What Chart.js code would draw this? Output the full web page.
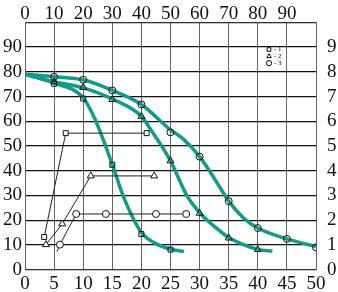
<!DOCTYPE html>
<html lang="en">
    <head>
        <meta charset="UTF-8" />
        <title>Chart</title>
        <script src="https://cdn.jsdelivr.net/npm/chart.js@4.4.1/dist/chart.umd.min.js"></script>
        <style>
            html, body { margin: 0; padding: 0; background: #fff; }
            #wrap { width: 338px; height: 292px; }
        </style>
    </head>
    <body>
        <div id="wrap"><canvas id="myChart"></canvas></div>
    </body>

    <script>
        // teal curves (bottom scale 0..50)
        const c1X = [0, 5, 10, 12, 15, 17, 20, 22.5, 25, 27.3];
        const c1Y = [79, 75.5, 69.5, 61, 42.5, 29, 15, 10.5, 8.3, 7.3];
        const c2X = [0, 5, 10, 15, 20, 21.5, 25, 27.8, 30, 32.9, 35, 40, 42.5];
        const c2Y = [79, 76, 73.5, 69, 62, 57, 44, 30, 23, 16.8, 13, 8.2, 7.5];
        const c3X = [0, 5, 10, 15, 20, 25, 27.2, 30, 32.9, 35, 37.5, 40, 45, 50];
        const c3Y = [79, 78, 76.8, 72.5, 66.8, 56.5, 52.8, 45.7, 35.5, 27.7, 21, 16.8, 12.4, 9.3];

        // markers on the curves
        const sqX = [5, 10, 15, 20, 25];
        const sqY = [75.2, 69.2, 42.4, 14.4, 8.1];
        const triX = [5, 10, 15, 20, 25, 30, 35, 40];
        const triY = [76, 73.7, 68.8, 62, 44, 22.8, 12.8, 8.1];
        const cirX = [5, 10, 15, 20, 25, 30, 35, 40, 45, 50];
        const cirY = [78, 76.8, 72.5, 66.8, 55.5, 45.7, 27.7, 16.8, 12.4, 9];

        // thin black lines
        const sqThinX = [3.3, 7.0, 20.9];
        const sqThinY = [13.2, 55.2, 55.2];
        const triThinX = [3.6, 6.4, 11.3, 22.2];
        const triThinY = [10.1, 18.5, 37.9, 37.9];
        const cirThinX = [5.5, 6.0, 8.8, 13.9, 22.5, 27.7];
        const cirThinY = [7.3, 10.1, 22.5, 22.5, 22.5, 22.5];

        const legendItems = ["- 1", "- 2", "- 3"];
        const legendStyles = ["rect", "triangle", "circle"];

        const teal = "#129a8a";
        const font = { family: "'Liberation Serif', serif", size: 19 };

        const pts = (xs, ys) => xs.map((x, i) => ({ x: x, y: ys[i] }));

        function markerSet(xs, ys, style) {
            return {
                data: pts(xs, ys),
                showLine: false,
                pointStyle: style,
                pointRadius: style === "triangle" ? 4 : 3.5,
                pointBorderColor: "#111",
                pointBackgroundColor: "rgba(255,255,255,0)",
                pointBorderWidth: 1,
            };
        }

        function thinSet(xs, ys, style, noFirst) {
            return {
                data: pts(xs, ys),
                showLine: true,
                borderColor: "#222",
                borderWidth: 1,
                tension: 0,
                pointStyle: style,
                pointRadius: xs.map((x, i) => (noFirst && i === 0 ? 0 : style === "triangle" ? 4 : 3.5)),
                pointBorderColor: "#111",
                pointBackgroundColor: "#fff",
                pointBorderWidth: 1,
            };
        }

        function curveSet(xs, ys) {
            return {
                data: pts(xs, ys),
                showLine: true,
                borderColor: teal,
                borderWidth: 3.5,
                cubicInterpolationMode: "monotone",
                pointRadius: 0,
            };
        }

        const legendPlugin = {
            id: "cornerLegend",
            afterDatasetsDraw(chart) {
                const ctx = chart.ctx;
                ctx.save();
                legendItems.forEach((txt, i) => {
                    const y = 49.5 + i * 6.8;
                    ctx.strokeStyle = "#111";
                    ctx.fillStyle = "#fff";
                    ctx.lineWidth = 1;
                    Chart.helpers.drawPoint(ctx, {
                        pointStyle: legendStyles[i],
                        radius: 2.6,
                        borderWidth: 1,
                    }, 269, y);
                    ctx.fillStyle = "#111";
                    ctx.font = "7px 'Liberation Serif', serif";
                    ctx.textBaseline = "middle";
                    ctx.fillText(txt, 274, y);
                });
                ctx.restore();
            },
        };

        new Chart("myChart", {
            type: "scatter",
            data: {
                datasets: [
                    markerSet(sqX, sqY, "rect"),
                    markerSet(triX, triY, "triangle"),
                    markerSet(cirX, cirY, "circle"),
                    thinSet(sqThinX, sqThinY, "rect", false),
                    thinSet(triThinX, triThinY, "triangle", false),
                    thinSet(cirThinX, cirThinY, "circle", true),
                    curveSet(c1X, c1Y),
                    curveSet(c2X, c2Y),
                    curveSet(c3X, c3Y),
                ],
            },
            options: {
                responsive: true,
                maintainAspectRatio: false,
                animation: false,
                layout: { padding: 0 },
                plugins: { legend: { display: false }, tooltip: { enabled: false } },
                scales: {
                    x: {
                        type: "linear",
                        position: "bottom",
                        min: 0,
                        max: 50,
                        afterFit: (s) => { s.height = 20; },
                        ticks: { stepSize: 5, autoSkip: false, color: "#111", font: font, padding: 3, maxRotation: 0 },
                        grid: { color: "#666", lineWidth: 1, drawTicks: false },
                        border: { color: "#333", width: 1 },
                    },
                    x2: {
                        type: "linear",
                        position: "top",
                        min: 0,
                        max: 100,
                        afterFit: (s) => { s.height = 22; },
                        ticks: {
                            stepSize: 10,
                            autoSkip: false,
                            color: "#111",
                            font: font,
                            padding: -3,
                            maxRotation: 0,
                            callback: (v) => (v === 100 ? "" : v),
                        },
                        grid: { display: false, drawTicks: false },
                        border: { color: "#333", width: 1 },
                    },
                    y: {
                        position: "left",
                        min: 0,
                        max: 100,
                        afterFit: (s) => { s.width = 25; },
                        ticks: {
                            stepSize: 10,
                            autoSkip: false,
                            color: "#111",
                            font: font,
                            padding: 3,
                            callback: (v) => (v === 100 ? "" : v),
                        },
                        grid: { color: "#111", lineWidth: 1.3, drawTicks: false },
                        border: { color: "#666", width: 1 },
                    },
                    y2: {
                        position: "right",
                        min: 0,
                        max: 10,
                        afterFit: (s) => { s.width = 22; },
                        ticks: {
                            stepSize: 1,
                            autoSkip: false,
                            color: "#111",
                            font: font,
                            padding: 11,
                            callback: (v) => (v === 10 ? "" : v),
                        },
                        grid: { display: false, drawTicks: false },
                        border: { color: "#666", width: 1 },
                    },
                },
            },
            plugins: [legendPlugin],
        });
    </script>
</html>
